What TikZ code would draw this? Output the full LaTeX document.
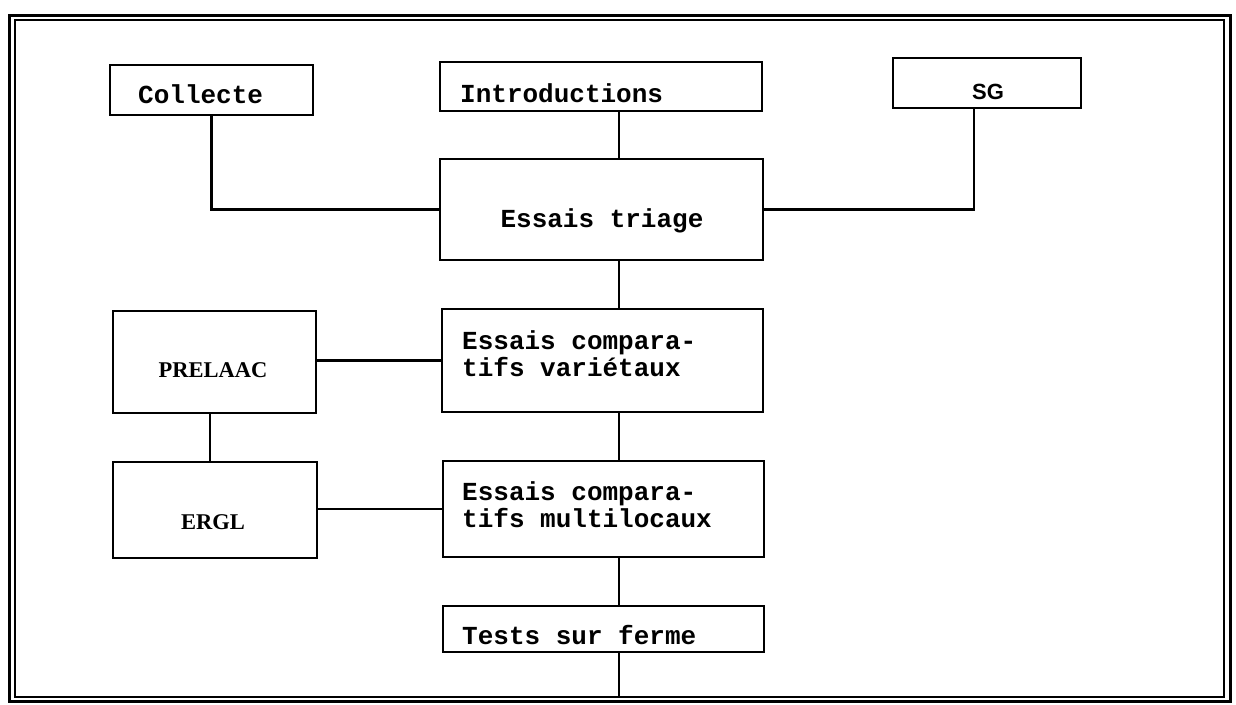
\documentclass[tikz,border=0pt]{standalone}
\usepackage{fontspec}
\newfontfamily\courfont{Liberation Mono}
\newfontfamily\seriffont{Liberation Serif}
\newfontfamily\sansfont{Liberation Sans}
\tikzset{
  box/.style={draw=black, line width=2.8pt, rectangle, inner sep=0pt},
  link/.style={draw=black, line width=2.4pt},
  ctext/.style={inner sep=0pt, font=\courfont\bfseries\fontsize{26}{27}\selectfont, align=left},
  stext/.style={inner sep=0pt, font=\seriffont\bfseries\fontsize{22.5}{24}\selectfont},
  htext/.style={inner sep=0pt, font=\sansfont\bfseries\fontsize{22}{24}\selectfont},
}
\begin{document}
\begin{tikzpicture}[x=1pt,y=-1pt]
\useasboundingbox (0,0) rectangle (1236,704);
\fill[white] (0,0) rectangle (1236,704);
% frame
\draw[line width=3pt] (9,15) rectangle (1230,701);
\draw[line width=1.8pt] (15,20) rectangle (1224,697);
\coordinate (fb) at (619,697);
\coordinate (spine) at (619,0);
\coordinate (sgx) at (974,0);
\coordinate (lx) at (210,0);
% boxes
\node[box, minimum width=203pt, minimum height=50pt] (collecte) at (211.5,90) {};
\node[box, minimum width=322pt, minimum height=49pt] (intro) at (601,86.5) {};
\node[box, minimum width=188pt, minimum height=50pt] (sg) at (987,83) {};
\node[box, minimum width=323pt, minimum height=101pt] (triage) at (601.5,209.5) {};
\node[box, minimum width=321pt, minimum height=103pt] (var) at (602.5,360.5) {};
\node[box, minimum width=203pt, minimum height=102pt] (prel) at (214.5,362) {};
\node[box, minimum width=204pt, minimum height=96pt] (ergl) at (215,510) {};
\node[box, minimum width=321pt, minimum height=96pt] (multi) at (603.5,509) {};
\node[box, minimum width=321pt, minimum height=46pt] (tests) at (603.5,629) {};
% texts
\node[ctext, anchor=base west] (tcollecte) at (138,103) {Collecte};
\node[ctext, anchor=base west] (tintro) at (460,102) {Introductions};
\node[htext, anchor=base] (tsg) at (988,99) {SG};
\node[ctext, anchor=base] (ttriage) at (602,227) {Essais triage};
\node[ctext, anchor=base west] (tvar) at (462,376) {Essais compara-\\tifs variétaux};
\node[stext, anchor=base] (tprel) at (213,377) {PRELAAC};
\node[stext, anchor=base] (tergl) at (213,529) {ERGL};
\node[ctext, anchor=base west] (tmulti) at (462,527) {Essais compara-\\tifs multilocaux};
\node[ctext, anchor=base west] (ttests) at (462,644) {Tests sur ferme};
% connectors
\draw[link] (collecte.south) |- (triage.west);
\draw[link] (intro.south -| spine) -- (triage.north -| spine);
\draw[link] (sg.south -| sgx) |- (triage.east);
\draw[link] (triage.south -| spine) -- (var.north -| spine);
\draw[link] (var.west -| prel.east) -- (var.west);
\draw[link] (prel.south -| lx) -- (ergl.north -| lx);
\draw[link] (multi.west -| ergl.east) -- (multi.west);
\draw[link] (var.south -| spine) -- (multi.north -| spine);
\draw[link] (multi.south -| spine) -- (tests.north -| spine);
\draw[link] (tests.south -| spine) -- (fb);
\end{tikzpicture}
\end{document}
